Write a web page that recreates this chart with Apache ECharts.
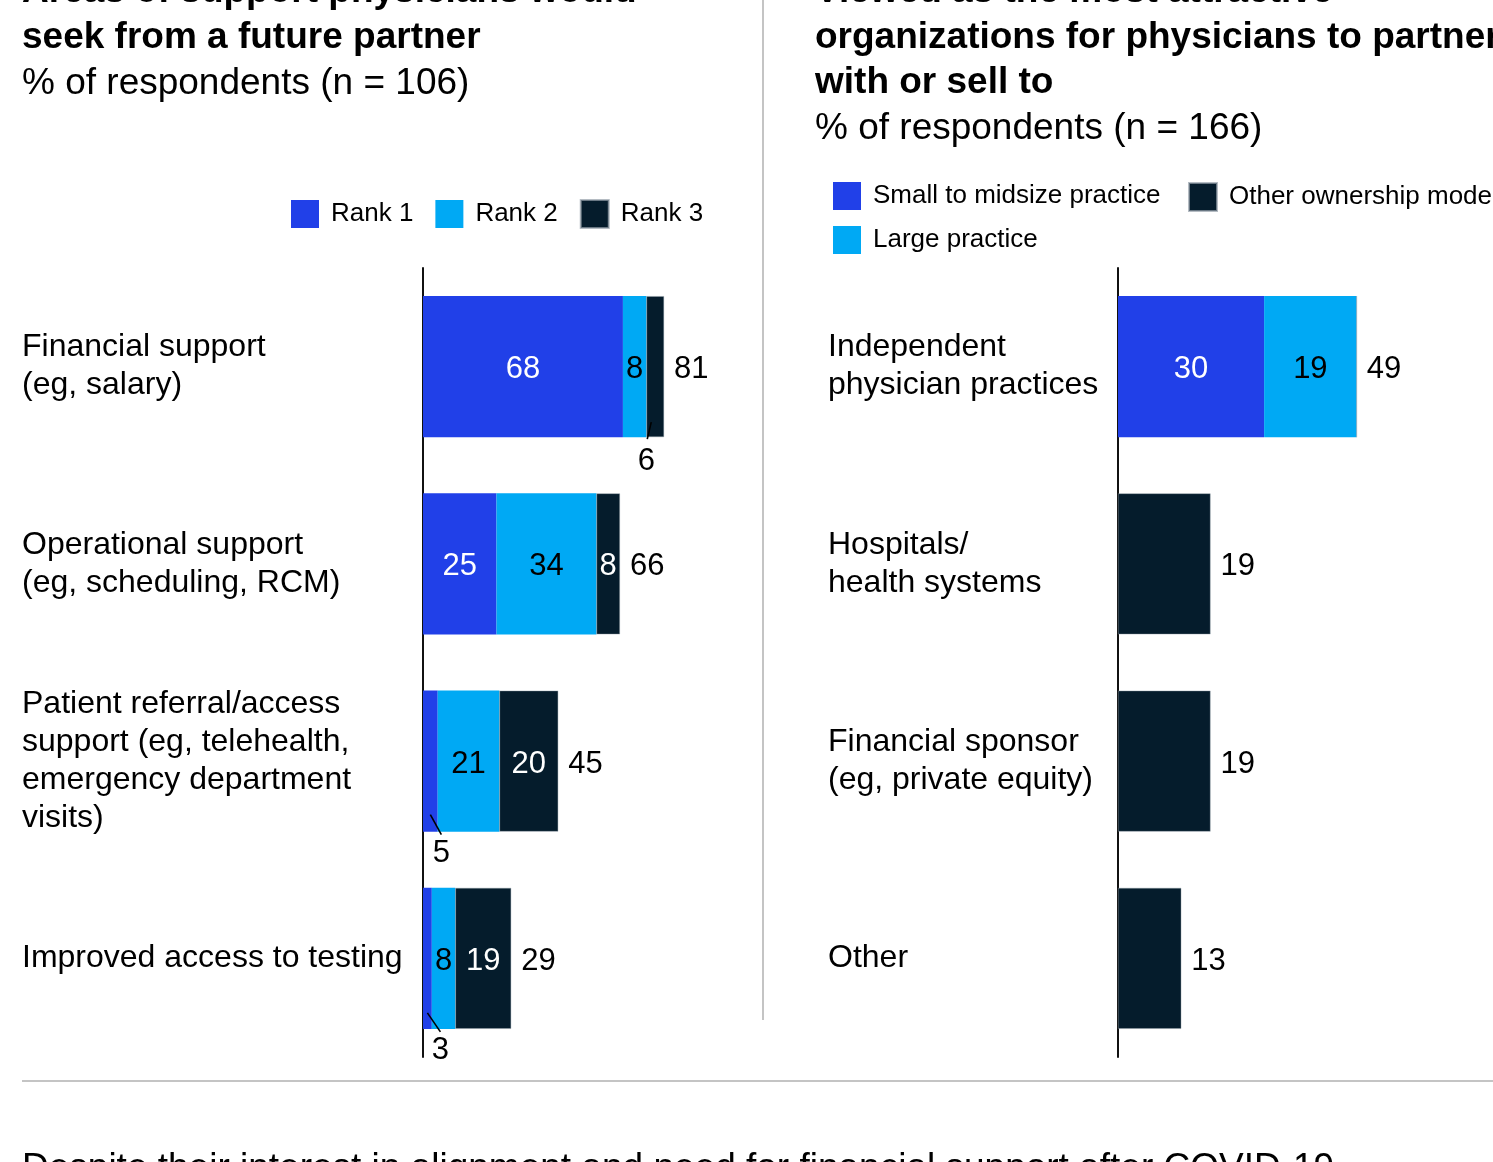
<!DOCTYPE html>
<html>
<head>
<meta charset="utf-8">
<style>
html,body{margin:0;padding:0;background:#fff;}
#chart{width:1493px;height:1162px;}
</style>
<script src="https://cdn.jsdelivr.net/npm/echarts@6/dist/echarts.min.js"></script>
</head>
<body>
<div id="chart"></div>
<script>
// ---------- data ----------
const leftCategories = [
  'Financial support\n(eg, salary)',
  'Operational support\n(eg, scheduling, RCM)',
  'Patient referral/access\nsupport (eg, telehealth,\nemergency department\nvisits)',
  'Improved access to testing'
];
const rank1 = [68, 25, 5, 3];
const rank2 = [8, 34, 21, 8];
const rank3 = [6, 8, 20, 19];
const leftTotals = [81, 66, 45, 29];
const leftSeriesNames = ['Rank 1', 'Rank 2', 'Rank 3'];

const rightCategories = [
  'Independent\nphysician practices',
  'Hospitals/\nhealth systems',
  'Financial sponsor\n(eg, private equity)',
  'Other'
];
const smallMidsize = [30, 0, 0, 0];
const largePractice = [19, 0, 0, 0];
const otherOwnership = [0, 19, 19, 13];
const rightTotals = [49, 19, 19, 13];
const rightSeriesNames = ['Small to midsize practice', 'Large practice', 'Other ownership model'];

// small segments whose values are called out below the bar: [seriesIndex, categoryIndex]
const leftCallouts = [[2, 0], [0, 2], [0, 3]];

// ---------- styling ----------
const FONT = "'Liberation Sans', Arial, Helvetica, sans-serif";
const C1 = '#2140E8', C2 = '#00A9F4', C3 = '#051C2C';
const BAR_FRAC = 0.715;
const calloutStyle = [
  {x1: -4, y1: -15, x2: -8, y2: 2, tx: -9, ty: 24},
  {x1: 0, y1: -17, x2: 11, y2: 3, tx: 11, ty: 22},
  {x1: 0, y1: -16, x2: 13, y2: 3, tx: 13, ty: 22}
];

const leftSets = [rank1, rank2, rank3];
const rightSets = [smallMidsize, largePractice, otherOwnership];

function isCallout(si, ci) {
  return leftCallouts.some(c => c[0] === si && c[1] === ci);
}

function barSeries(name, values, color, labelColor, axisIdx, si, isLeft) {
  return {
    name: name,
    type: 'bar',
    stack: isLeft ? 'L' : 'R',
    xAxisIndex: axisIdx, yAxisIndex: axisIdx,
    barWidth: (BAR_FRAC * 100) + '%',
    itemStyle: {color: color, borderColor: color === C3 ? 'rgba(150,160,170,0.7)' : color, borderWidth: color === C3 ? 0.6 : 0},
    data: values.map((v, ci) => ({
      value: v,
      label: {show: v > 0 && !(isLeft && isCallout(si, ci)) && !(!isLeft && si === 2)}
    })),
    label: {
      position: 'inside',
      color: labelColor,
      fontFamily: FONT,
      fontSize: 31,
      offset: [0, 3],
      formatter: p => String(p.value)
    },
    emphasis: {disabled: true},
    silent: true
  };
}

function totalSeries(sets, totals, axisIdx) {
  return {
    type: 'scatter',
    xAxisIndex: axisIdx, yAxisIndex: axisIdx,
    symbolSize: 0,
    itemStyle: {opacity: 1},
    data: totals.map((t, ci) => [sets.reduce((a, s) => a + s[ci], 0), ci]),
    label: {
      show: true, position: 'right', distance: 10, offset: [0, 3],
      color: '#000', fontFamily: FONT, fontSize: 31,
      formatter: p => String(totals[p.dataIndex])
    },
    emphasis: {disabled: true},
    silent: true
  };
}

const calloutData = leftCallouts.map(([si, ci]) => {
  let start = 0;
  for (let k = 0; k < si; k++) start += leftSets[k][ci];
  return [start, start + leftSets[si][ci], ci];
});

function legendAt(names, left, top) {
  return {
    data: names, left: left, top: top, icon: 'rect', padding: 0,
    itemWidth: 28, itemHeight: 28, itemGap: 22, selectedMode: false,
    textStyle: {fontSize: 26, color: '#000', fontFamily: FONT, padding: [4, 0, 0, 7]}
  };
}

const option = {
  animation: false,
  backgroundColor: '#fff',
  textStyle: {fontFamily: FONT},
  legend: [
    legendAt(leftSeriesNames, 291, 199),
    legendAt([rightSeriesNames[0]], 833, 182),
    legendAt([rightSeriesNames[2]], 1188, 182),
    legendAt([rightSeriesNames[1]], 833, 226)
  ],
  grid: [
    {left: 423, top: 268, width: 294, height: 789},
    {left: 1118, top: 268, width: 375, height: 789}
  ],
  xAxis: [
    {type: 'value', gridIndex: 0, min: 0, max: 100, show: false},
    {type: 'value', gridIndex: 1, min: 0, max: 77, show: false}
  ],
  yAxis: [leftCategories, rightCategories].map((cats, i) => ({
    type: 'category', gridIndex: i, data: cats, inverse: true,
    axisLine: {show: true, lineStyle: {color: '#111', width: 2}},
    axisTick: {show: false},
    axisLabel: {
      align: 'left', margin: i === 0 ? 401 : 290,
      color: '#000', fontFamily: FONT, fontSize: 32, lineHeight: 38,
      padding: [6, 0, 0, 0], backgroundColor: 'rgba(255,255,255,0)'
    }
  })),
  series: [
    barSeries(leftSeriesNames[0], rank1, C1, '#fff', 0, 0, true),
    barSeries(leftSeriesNames[1], rank2, C2, '#000', 0, 1, true),
    barSeries(leftSeriesNames[2], rank3, C3, '#fff', 0, 2, true),
    totalSeries(leftSets, leftTotals, 0),
    barSeries(rightSeriesNames[0], smallMidsize, C1, '#fff', 1, 0, false),
    barSeries(rightSeriesNames[1], largePractice, C2, '#000', 1, 1, false),
    barSeries(rightSeriesNames[2], otherOwnership, C3, '#fff', 1, 2, false),
    totalSeries(rightSets, rightTotals, 1),
    {
      type: 'custom',
      xAxisIndex: 0, yAxisIndex: 0,
      silent: true,
      z: 10,
      clip: false,
      data: calloutData,
      renderItem: function (params, api) {
        const s = api.value(0), e = api.value(1), c = api.value(2);
        const p = api.coord([(s + e) / 2, c]);
        const band = api.size([0, 1])[1];
        const bottom = p[1] + band * BAR_FRAC / 2;
        const st = calloutStyle[params.dataIndex];
        const [si, ci] = leftCallouts[params.dataIndex];
        return {
          type: 'group',
          children: [
            {type: 'line', z2: 10, shape: {x1: p[0] + st.x1, y1: bottom + st.y1, x2: p[0] + st.x2, y2: bottom + st.y2},
             style: {stroke: '#000', lineWidth: 1.6}},
            {type: 'text', x: p[0] + st.tx, y: bottom + st.ty,
             style: {text: String(leftSets[si][ci]), fill: '#000', font: '31px ' + FONT,
                     textAlign: 'center', textVerticalAlign: 'middle'}}
          ]
        };
      }
    }
  ],
  graphic: [
    {type: 'text', x: 22, y: -8, style: {text: 'Areas of support physicians would', font: 'bold 37px ' + FONT, fill: '#000', textVerticalAlign: 'middle'}},
    {type: 'text', x: 22, y: 38, style: {text: 'seek from a future partner', font: 'bold 37px ' + FONT, fill: '#000', textVerticalAlign: 'middle'}},
    {type: 'text', x: 22, y: 84, style: {text: '% of respondents (n = 106)', font: '37px ' + FONT, fill: '#000', textVerticalAlign: 'middle'}},
    {type: 'text', x: 815, y: -8, style: {text: 'Viewed as the most attractive', font: 'bold 37px ' + FONT, fill: '#000', textVerticalAlign: 'middle'}},
    {type: 'text', x: 815, y: 38, style: {text: 'organizations for physicians to partner', font: 'bold 37px ' + FONT, fill: '#000', textVerticalAlign: 'middle'}},
    {type: 'text', x: 815, y: 83, style: {text: 'with or sell to', font: 'bold 37px ' + FONT, fill: '#000', textVerticalAlign: 'middle'}},
    {type: 'text', x: 815, y: 129, style: {text: '% of respondents (n = 166)', font: '37px ' + FONT, fill: '#000', textVerticalAlign: 'middle'}},
    {type: 'line', shape: {x1: 763, y1: 0, x2: 763, y2: 1020}, style: {stroke: '#c4c4c4', lineWidth: 2}},
    {type: 'line', shape: {x1: 22, y1: 1081, x2: 1493, y2: 1081}, style: {stroke: '#c4c4c4', lineWidth: 2}},
    {type: 'text', x: 22, y: 1169, style: {text: 'Despite their interest in alignment and need for financial support after COVID-19,', font: '37px ' + FONT, fill: '#000', textVerticalAlign: 'middle'}}
  ]
};

const chart = echarts.init(document.getElementById('chart'), null, {renderer: 'canvas'});
chart.setOption(option);
</script>
</body>
</html>
